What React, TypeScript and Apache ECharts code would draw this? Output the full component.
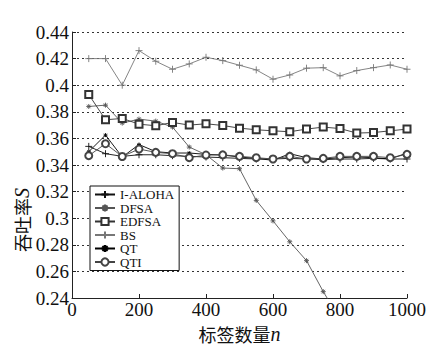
import React, { useEffect, useRef } from "react";
import * as echarts from "echarts";

const tagCounts = [50, 100, 150, 200, 250, 300, 350, 400, 450, 500, 550, 600, 650, 700, 750, 800, 850, 900, 950, 1000];
const yTicks = [0.24, 0.44, 0.02];
const xTicks = [0, 1000, 200];

const bsValues = [0.42, 0.42, 0.40, 0.426, 0.418, 0.412, 0.416, 0.421, 0.4185, 0.415, 0.4115, 0.4045, 0.4077, 0.4128, 0.4132, 0.407, 0.411, 0.4132, 0.4152, 0.412];
const edfsaValues = [0.393, 0.374, 0.375, 0.3707, 0.3695, 0.372, 0.370, 0.371, 0.3697, 0.3677, 0.3665, 0.3657, 0.365, 0.367, 0.3685, 0.3674, 0.364, 0.3644, 0.3657, 0.367];
const dfsaValues = [0.384, 0.385, 0.3715, 0.3745, 0.373, 0.3685, 0.3535, 0.3477, 0.3377, 0.3372, 0.3134, 0.298, 0.2823, 0.2681, 0.2448, 0.224];
const alohaValues = [0.354, 0.3485, 0.3465, 0.3477, 0.3477, 0.347, 0.3465, 0.346, 0.3455, 0.345, 0.3445, 0.3445, 0.345, 0.3445, 0.344, 0.3445, 0.3445, 0.345, 0.3445, 0.3445];
const qtValues = [0.35, 0.3625, 0.346, 0.3554, 0.35, 0.349, 0.349, 0.348, 0.3475, 0.346, 0.345, 0.3435, 0.3485, 0.3455, 0.3445, 0.3455, 0.346, 0.3455, 0.3445, 0.349];
const qtiValues = [0.347, 0.356, 0.3464, 0.352, 0.3495, 0.3485, 0.3455, 0.3475, 0.3476, 0.3465, 0.3455, 0.3445, 0.3465, 0.3445, 0.345, 0.3465, 0.3465, 0.3465, 0.3455, 0.348];

const seriesNames = ["I-ALOHA", "DFSA", "EDFSA", "BS", "QT", "QTI"];

const PLUS = "path://M5,0L5,10M0,5L10,5";
const STAR = "path://M5,0L5,10M0,5L10,5M1.5,1.5L8.5,8.5M8.5,1.5L1.5,8.5";

const serif = "Liberation Serif, serif";

function pairs(vals: number[]) {
  return vals.map((v, i) => [tagCounts[i], v]);
}

export default function App() {
  const ref = useRef<HTMLDivElement>(null);
  useEffect(() => {
    if (!ref.current) return;
    const chart = echarts.init(ref.current, undefined, { renderer: "svg" });
    const mk = (name: string, vals: number[], symbol: string, size: number, color: string) => ({
      name,
      type: "line",
      data: pairs(vals),
      symbol,
      symbolSize: size,
      showSymbol: true,
      clip: true,
      lineStyle: { color, width: 0.9 },
      itemStyle: { color: symbol.startsWith("empty") ? color : "none", borderColor: color, borderWidth: 0.9 },
      emphasis: { disabled: true },
    });
    chart.setOption({
      animation: false,
      backgroundColor: "#fff",
      grid: { left: 72, right: 26, top: 32, bottom: 58 },
      xAxis: {
        type: "value",
        min: xTicks[0],
        max: xTicks[1],
        interval: xTicks[2],
        name: "{a|标签数量}{b|n}",
        nameLocation: "middle",
        nameGap: 26,
        nameTextStyle: {
          rich: {
            a: { fontFamily: "Noto Sans CJK SC", fontSize: 18, color: "#111" },
            b: { fontFamily: serif, fontStyle: "italic", fontSize: 20, color: "#111" },
          },
        },
        axisLine: { show: true, lineStyle: { color: "#222", width: 1 } },
        axisTick: { show: true, inside: true, length: 4, lineStyle: { color: "#222" } },
        axisLabel: { fontFamily: serif, fontSize: 19, color: "#111", margin: 2, formatter: (v: number) => String(v) },
        splitLine: { show: false },
      },
      yAxis: {
        type: "value",
        min: yTicks[0],
        max: yTicks[1],
        interval: yTicks[2],
        axisLine: { show: true, lineStyle: { color: "#222", width: 1 } },
        axisTick: { show: true, inside: true, length: 4, lineStyle: { color: "#222" } },
        axisLabel: {
          fontFamily: serif,
          fontSize: 19,
          color: "#111",
          margin: 3,
          formatter: (v: number) => String(parseFloat(v.toFixed(2))),
        },
        splitLine: { show: true, lineStyle: { color: "#333", type: [2, 3], width: 1 } },
      },
      legend: {
        orient: "vertical",
        left: 90,
        top: 186,
        itemWidth: 20,
        itemHeight: 9,
        itemGap: 0.5,
        padding: [2, 5, 2, 4],
        borderColor: "#111",
        borderWidth: 1,
        borderRadius: 0,
        backgroundColor: "#fff",
        data: seriesNames,
        textStyle: { fontFamily: serif, fontSize: 13, lineHeight: 13, color: "#111" },
      },
      graphic: [
        {
          type: "text",
          x: 22,
          y: 220,
          rotation: Math.PI / 2,
          style: {
            text: "{a|吞吐率}{b|S}",
            rich: {
              a: { fontFamily: "Noto Sans CJK SC", fontSize: 18, fill: "#111" },
              b: { fontFamily: serif, fontStyle: "italic", fontSize: 20, fill: "#111" },
            },
            align: "center",
            verticalAlign: "middle",
          },
        },
      ],
      series: [
        mk("I-ALOHA", alohaValues, PLUS, 7, "#111"),
        mk("DFSA", dfsaValues, STAR, 5, "#555"),
        mk("EDFSA", edfsaValues, "emptyRect", 7, "#333"),
        mk("BS", bsValues, PLUS, 7, "#777"),
        mk("QT", qtValues, STAR, 4, "#000"),
        mk("QTI", qtiValues, "emptyCircle", 7, "#444"),
      ],
    });
    return () => chart.dispose();
  }, []);
  return <div ref={ref} style={{ position: "absolute", left: 0, top: 0, width: 433, height: 356 }} />;
}
